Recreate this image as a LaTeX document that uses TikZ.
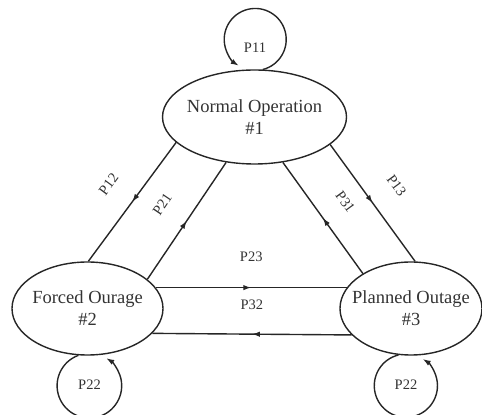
\documentclass[tikz,border=0pt]{standalone}
\usepackage{fontspec}
\setmainfont{Liberation Serif}
\usetikzlibrary{arrows.meta, decorations.markings, shapes.geometric}

\begin{document}
\begin{tikzpicture}[x=1pt, y=1pt, >={Latex[length=8pt,width=5.5pt]},
  line width=1.4pt, node distance=323.5pt, draw=black!85,
  state node/.style={ellipse, draw, inner xsep=-10pt, inner ysep=0pt,
    align=center, text=black!80, font=\fontsize{18.5}{22}\selectfont},
  prob/.style={inner sep=2pt, text=black!80, font=\fontsize{14.5}{16}\selectfont},
  mid arrow/.style={postaction={decorate}, decoration={markings,
    mark=at position 0.5 with {\arrow{>}}}}]
  \useasboundingbox (0,0) rectangle (482,415);
  \node[state node, minimum width=184pt, minimum height=94pt] (1) at (254.5,298) {Normal Operation\\\#1};
  \node[state node, minimum width=151pt, minimum height=93pt] (2) at (87.5,106.5) {Forced Ourage\\\#2};
  \node[state node, minimum width=142pt, minimum height=93pt] (3) [right of=2] {Planned Outage\\\#3};
  \path[every node/.style={prob}]
    (1.198) edge[mid arrow] node[sloped, above=22pt] {P12} (2.89)
    (2.26) edge[mid arrow] node[sloped, above=22pt] {P21} (1.238)
    (1.-20) edge[mid arrow] node[sloped, above=22pt] {P13} (3.85)
    (3.144) edge[mid arrow] node[sloped, above=20pt] {P31} (1.302)
    (2.17) edge[mid arrow] node[above=23pt] {P23} (3.162)
    (3.204) edge[mid arrow] node[above=22pt] {P32} (2.-21);
  % self loops
  \draw[->] (1.80) arc[start angle=-75.7, end angle=237.8, radius=31pt];
  \draw[->] (2.-101) arc[start angle=109.9, end angle=418.6, radius=32.3pt];
  \draw[->] (3.-105) arc[start angle=103.4, end angle=417.8, radius=31.6pt];
  \node[prob] (p11) at (255,367) {P11};
  \node[prob] (p22a) at (89.5,30) {P22};
  \node[prob] (p22b) at (406,30) {P22};
\end{tikzpicture}
\end{document}
